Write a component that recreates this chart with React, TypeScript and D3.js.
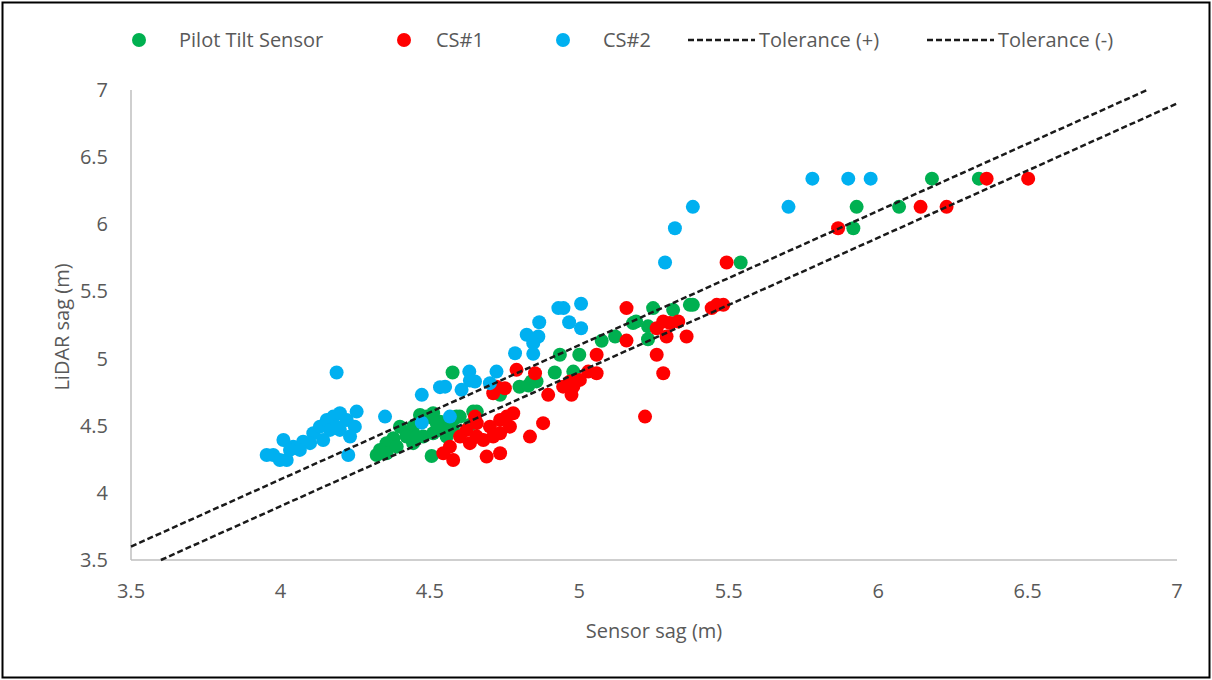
import React from "react";
import * as d3 from "d3";

// Sensor sag (x) vs LiDAR sag (y), metres
const pilotTilt: [number, number][] = [
  [4.576, 4.896], [4.467, 4.58], [4.489, 4.568], [4.511, 4.556], [4.534, 4.53], [4.556, 4.506],
  [4.578, 4.469], [4.40, 4.493], [4.422, 4.444], [4.378, 4.407], [4.355, 4.37], [4.333, 4.32],
  [4.322, 4.282], [4.355, 4.295], [4.389, 4.344], [4.444, 4.37], [4.478, 4.419], [4.511, 4.444],
  [4.534, 4.469], [4.578, 4.543], [4.60, 4.568], [4.645, 4.605], [4.506, 4.275], [4.556, 4.419],
  [4.444, 4.493], [4.634, 4.506], [4.422, 4.419], [4.456, 4.419], [4.511, 4.593], [4.523, 4.518],
  [4.589, 4.568], [4.657, 4.605],
  [4.935, 5.028], [5.0, 5.028], [4.918, 4.896], [4.98, 4.903], [4.84, 4.83], [4.857, 4.83],
  [4.80, 4.79], [4.83, 4.80], [4.735, 4.73], [5.075, 5.132], [5.12, 5.164], [5.18, 5.264],
  [5.19, 5.276], [5.23, 5.144], [5.247, 5.376], [5.314, 5.363], [5.37, 5.40], [5.38, 5.40],
  [5.23, 5.24], [5.54, 5.715], [5.917, 5.97], [5.928, 6.13], [6.07, 6.13], [6.18, 6.34],
  [6.337, 6.34],
];

const cs1: [number, number][] = [
  [5.158, 5.376], [5.158, 5.134], [5.259, 5.226], [5.281, 5.276], [5.303, 5.264], [5.331, 5.276],
  [5.292, 5.164], [5.359, 5.164], [5.259, 5.028], [5.281, 4.891], [5.22, 4.568], [5.058, 5.028],
  [5.058, 4.891], [5.03, 4.903], [5.002, 4.841], [4.969, 4.829], [4.946, 4.791], [4.98, 4.791],
  [4.974, 4.73], [4.896, 4.73], [4.79, 4.916], [4.852, 4.891], [4.723, 4.791], [4.751, 4.779],
  [4.712, 4.742], [4.651, 4.568], [4.657, 4.519], [4.623, 4.469], [4.601, 4.419], [4.567, 4.344],
  [4.545, 4.295], [4.578, 4.245], [4.634, 4.37], [4.679, 4.394], [4.701, 4.493], [4.735, 4.543],
  [4.757, 4.568], [4.779, 4.593], [4.768, 4.493], [4.735, 4.444], [4.69, 4.27], [4.735, 4.295],
  [4.835, 4.419], [4.879, 4.519], [4.712, 4.419], [4.657, 4.419],
  [5.443, 5.376], [5.46, 5.40], [5.482, 5.40], [5.493, 5.715], [5.866, 5.97], [6.142, 6.13],
  [6.229, 6.13], [6.363, 6.34], [6.502, 6.34],
];

const cs2: [number, number][] = [
  [5.78, 6.34], [5.90, 6.34], [5.975, 6.34], [5.70, 6.13], [5.38, 6.13], [5.32, 5.97],
  [5.287, 5.715], [4.93, 5.376], [4.947, 5.376], [5.006, 5.408], [4.866, 5.271], [4.966, 5.271],
  [5.006, 5.226], [4.824, 5.177], [4.863, 5.164], [4.846, 5.115], [4.785, 5.04], [4.846, 5.035],
  [4.632, 4.903], [4.723, 4.903], [4.534, 4.787], [4.551, 4.791], [4.634, 4.836], [4.651, 4.829],
  [4.606, 4.767], [4.701, 4.817], [4.473, 4.73], [4.567, 4.568], [4.473, 4.523], [4.188, 4.896],
  [4.35, 4.568], [4.227, 4.282],
  [3.954, 4.282], [3.976, 4.282], [4.01, 4.394], [4.021, 4.245], [4.043, 4.344], [4.076, 4.381],
  [4.11, 4.444], [4.132, 4.493], [4.155, 4.543], [4.177, 4.568], [4.199, 4.593], [4.222, 4.543],
  [4.255, 4.605], [4.249, 4.493], [4.233, 4.419], [4.199, 4.469], [4.166, 4.469], [4.143, 4.394],
  [4.099, 4.37], [4.065, 4.32], [4.032, 4.32], [3.998, 4.245], [4.188, 4.493],
];

const tolPlus: [number, number][] = [[3.5, 3.6], [6.9, 7.0]];
const tolMinus: [number, number][] = [[3.6, 3.5], [7.0, 6.9]];

const xTicks = [3.5, 4, 4.5, 5, 5.5, 6, 6.5, 7];
const yTicks = [3.5, 4, 4.5, 5, 5.5, 6, 6.5, 7];

const W = 1212, H = 680;
const left = 131, right = 1177, top = 90, bottom = 560;
const font = "'Open Sans', 'Liberation Sans', sans-serif";
const txt = "#595959";
const fs = 20;

const App = () => {
  const x = d3.scaleLinear().domain([3.5, 7]).range([left, right]);
  const y = d3.scaleLinear().domain([3.5, 7]).range([bottom, top]);
  const line = d3.line<[number, number]>().x(d => x(d[0])).y(d => y(d[1]));

  const series = [
    { name: "Pilot Tilt Sensor", data: pilotTilt, color: "#00B050" },
    { name: "CS#1", data: cs1, color: "#FF0000" },
    { name: "CS#2", data: cs2, color: "#00B0F0" },
  ];

  return (
    <svg width={W} height={H} style={{ position: "absolute", left: 0, top: 0, background: "#fff" }}
      fontFamily={font}>
      <rect x={2.5} y={2.5} width={W - 5} height={H - 5} fill="#fff" stroke="#000" strokeWidth={2} />

      {/* axes */}
      <line x1={left} x2={left} y1={top} y2={bottom} stroke="#bfbfbf" strokeWidth={1.5} />
      <line x1={left} x2={right} y1={bottom} y2={bottom} stroke="#bfbfbf" strokeWidth={1.5} />
      {yTicks.map(t => (
        <text key={"y" + t} x={left - 23} y={y(t)} dy="0.35em" textAnchor="end" fontSize={fs} fill={txt}>{t}</text>
      ))}
      {xTicks.map(t => (
        <text key={"x" + t} x={x(t)} y={bottom + 31} dy="0.35em" textAnchor="middle" fontSize={fs} fill={txt}>{t}</text>
      ))}
      <text x={654} y={631} dy="0.35em" textAnchor="middle" fontSize={fs} fill={txt}>Sensor sag (m)</text>
      <text transform={`translate(62,${(top + bottom) / 2 + 2}) rotate(-90)`} dy="0.35em" textAnchor="middle"
        fontSize={fs} fill={txt}>LiDAR sag (m)</text>

      {/* points */}
      {series.map(s => (
        <g key={s.name}>
          {s.data.map((d, i) => (
            <circle key={i} cx={x(d[0])} cy={y(d[1])} r={7} fill={s.color} />
          ))}
        </g>
      ))}

      {/* tolerance lines */}
      {[tolPlus, tolMinus].map((d, i) => (
        <path key={i} d={line(d) || ""} fill="none" stroke="#1a1a1a" strokeWidth={2.5} strokeDasharray="6,3" />
      ))}

      {/* legend */}
      <g fontSize={fs} fill={txt}>
        <circle cx={139} cy={40} r={7} fill="#00B050" />
        <text x={179} y={40} dy="0.35em">Pilot Tilt Sensor</text>
        <circle cx={404} cy={40} r={7} fill="#FF0000" />
        <text x={436} y={40} dy="0.35em">CS#1</text>
        <circle cx={563} cy={40} r={7} fill="#00B0F0" />
        <text x={603} y={40} dy="0.35em">CS#2</text>
        <line x1={688} x2={755} y1={40} y2={40} stroke="#1a1a1a" strokeWidth={2.5} strokeDasharray="6,3" />
        <text x={759} y={40} dy="0.35em">Tolerance (+)</text>
        <line x1={927} x2={994} y1={40} y2={40} stroke="#1a1a1a" strokeWidth={2.5} strokeDasharray="6,3" />
        <text x={998} y={40} dy="0.35em">Tolerance (-)</text>
      </g>
    </svg>
  );
};

export default App;
